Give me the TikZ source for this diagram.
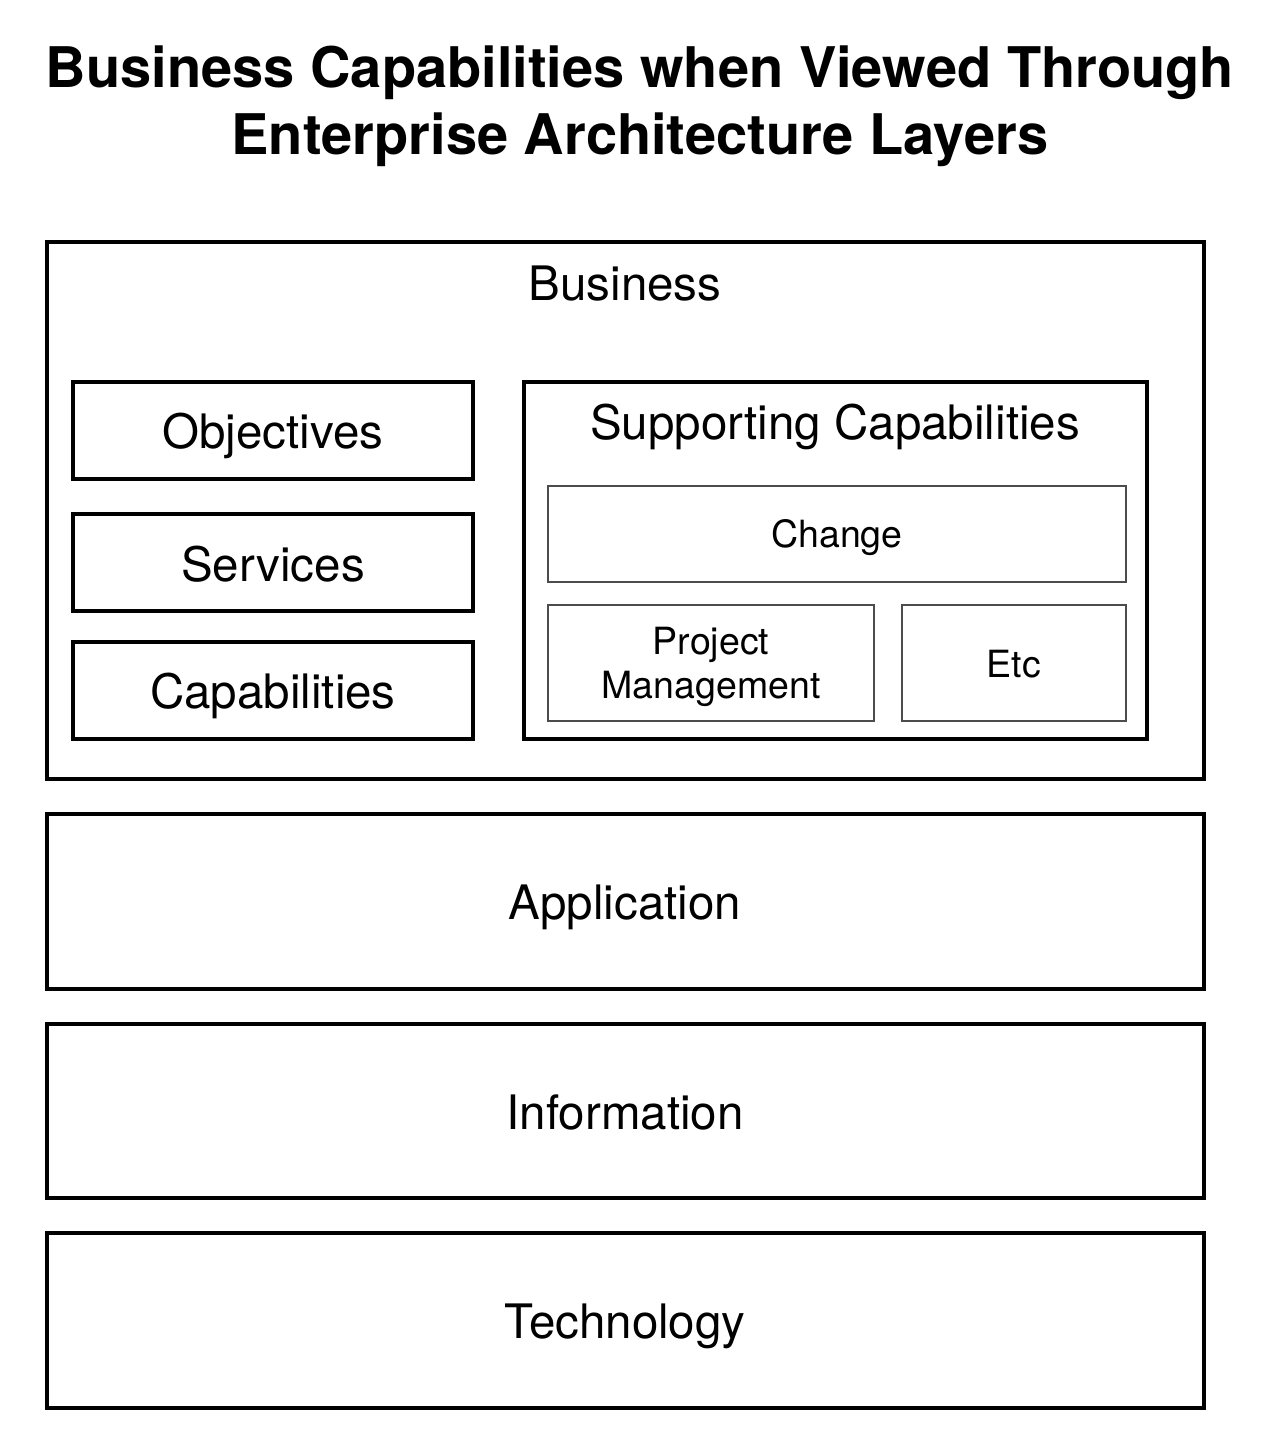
\documentclass[tikz,border=0pt]{standalone}
\usepackage{fontspec}
\setmainfont{TeX Gyre Heros}
\begin{document}
\begin{tikzpicture}[x=1pt,y=-1pt,
  thick box/.style={draw=black,line width=3.5pt},
  thin box/.style={draw=black!70,line width=1.5pt},
  big/.style={font=\fontsize{47.5}{55}\selectfont},
  small/.style={font=\fontsize{37.5}{44}\selectfont,align=center}]
\useasboundingbox (0,0) rectangle (1280,1436);
\node[font=\bfseries\fontsize{56}{67}\selectfont,align=center] (title) at (640,106)
  {Business Capabilities when Viewed Through\\Enterprise Architecture Layers};
% Business layer
\draw[thick box] (47,242) rectangle (1204,779);
\node[big] (business) at (625,284) {Business};
\draw[thick box] (73,382) rectangle (473,479);
\node[big] (obj) at (273,436) {Objectives};
\draw[thick box] (73,514) rectangle (473,611);
\node[big] (serv) at (273,564) {Services};
\draw[thick box] (73,642) rectangle (473,739);
\node[big] (cap) at (273,696) {Capabilities};
\draw[thick box] (524,382) rectangle (1147,739);
\node[big] (supp) at (835,427) {Supporting Capabilities};
\draw[thin box] (548,486) rectangle (1126,582);
\node[small] (change) at (837,538) {Change};
\draw[thin box] (548,605) rectangle (874,721);
\node[small] (pm) at (711,667) {Project\\Management};
\draw[thin box] (902,605) rectangle (1126,721);
\node[small] (etc) at (1014,664) {Etc};
% Other layers
\draw[thick box] (47,814) rectangle (1204,989);
\node[big] (app) at (625,907) {Application};
\draw[thick box] (47,1024) rectangle (1204,1198);
\node[big] (info) at (625,1112) {Information};
\draw[thick box] (47,1233) rectangle (1204,1408);
\node[big] (tech) at (625,1326) {Technology};
\end{tikzpicture}
\end{document}
